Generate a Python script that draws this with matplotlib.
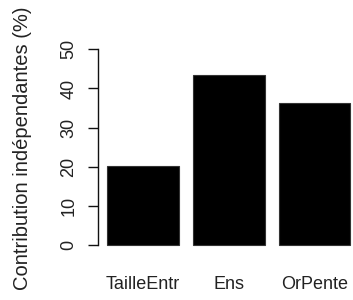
import matplotlib
matplotlib.use("Agg")
import matplotlib.pyplot as plt

# -----------------------
# Data
# -----------------------
categories = ["TailleEntr", "Ens", "OrPente"]
contributions = [20.2, 43.5, 36.3]
y_ticks = [0, 10, 20, 30, 40, 50]
y_label = "Contribution indépendantes (%)"

# -----------------------
# Figure
# -----------------------
plt.rcParams["font.family"] = ["Liberation Sans", "DejaVu Sans"]
W, H = 353, 300
fig = plt.figure(figsize=(W / 100, H / 100), dpi=100)

# R barplot geometry: width 1, space 0.2
px_unit = 71.5
x_lo, x_hi = 0.064, 3.736
y_lo, y_hi = -2, 52
left_px = 97.6
top_px, bottom_px = 41.5, 252.8
ax = fig.add_axes([left_px / W, (H - bottom_px) / H,
                   (x_hi - x_lo) * px_unit / W, (bottom_px - top_px) / H])

centers = [0.7 + 1.2 * i for i in range(len(categories))]
ax.bar(centers, contributions, width=1.0, color="black", edgecolor="#333333", linewidth=0.8)

ax.set_xlim(x_lo, x_hi)
ax.set_ylim(y_lo, y_hi)

for s in ["top", "right", "bottom"]:
    ax.spines[s].set_visible(False)
ax.spines["left"].set_bounds(0, 50)
ax.spines["left"].set_linewidth(1.0)
ax.spines["left"].set_color("#111111")

ax.set_yticks(y_ticks)
ax.set_yticklabels([str(t) for t in y_ticks], rotation=90, va="center")
ax.tick_params(axis="y", length=7.5, width=1.0, pad=7, labelsize=13,
               colors="#111111", labelcolor="#222222")

ax.set_xticks(centers)
ax.set_xticklabels(categories)
ax.tick_params(axis="x", length=0, pad=17, labelsize=13, labelcolor="#222222")

fig.text(23 / W, (H - 148) / H, y_label, rotation=90, ha="center", va="center",
         fontsize=14.5, color="#222222")

fig.savefig("out.png", dpi=100)
